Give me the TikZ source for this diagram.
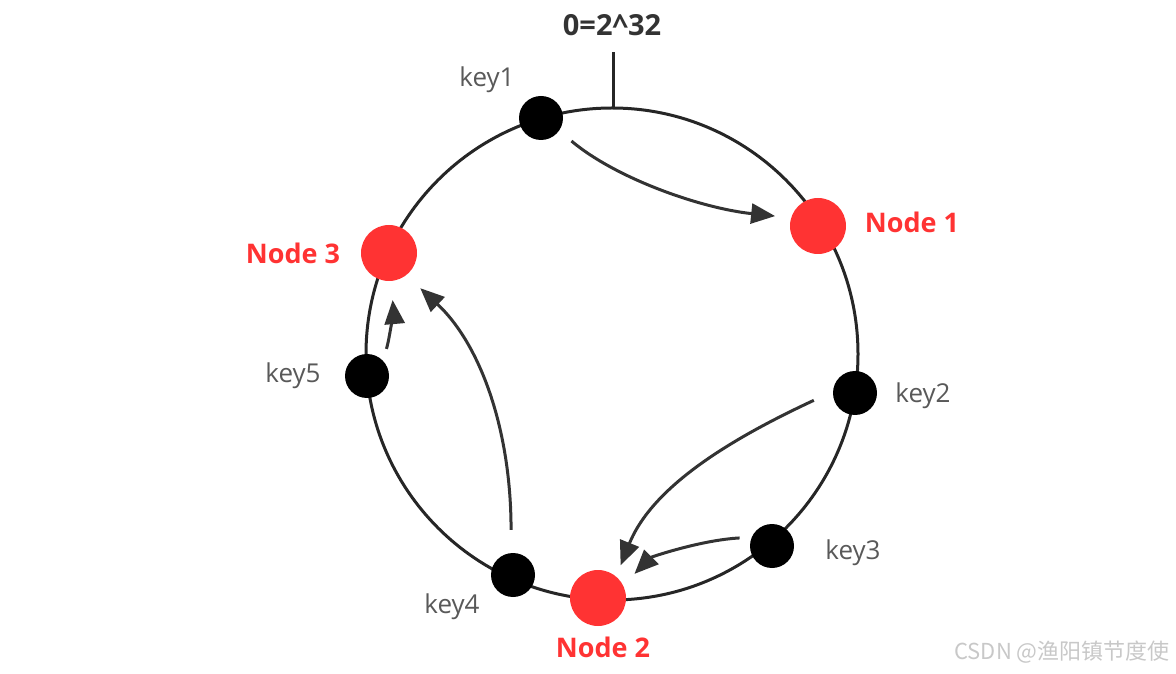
\documentclass[tikz,border=0pt]{standalone}
\usepackage{fontspec}
\setmainfont{Open Sans}
\newfontfamily\cjk{Noto Sans CJK SC}
\usetikzlibrary{arrows.meta}
\definecolor{nodered}{HTML}{FF3333}
\definecolor{keygray}{HTML}{595959}
\definecolor{ringdark}{HTML}{262626}
\definecolor{hopdark}{HTML}{333333}
\definecolor{markgray}{HTML}{C8C8C8}
\begin{document}
\begin{tikzpicture}[x=1pt,y=1pt,
    keydot/.style={circle,fill=black,minimum size=44pt,inner sep=0pt},
    reddot/.style={circle,fill=nodered,minimum size=56pt,inner sep=0pt},
    keylabel/.style={text=keygray,font=\fontsize{26}{30}\selectfont},
    redlabel/.style={text=nodered,font=\bfseries\fontsize{27}{32}\selectfont},
    hop/.style={draw=hopdark,line width=3pt,-{Triangle[length=24pt,width=20pt]}}]
    \useasboundingbox (0,0) rectangle (1176,673);
    \draw [line width=3pt][draw=ringdark] (612,319) circle [radius=246pt];
    % zero point at the top of the ring
    \coordinate (zero) at (613,565);
    \coordinate (zerotop) at (613,621);
    \draw [line width=3pt][draw=ringdark] (zero) -- (zerotop);
    \node [text=hopdark,font=\bfseries\fontsize{29}{34}\selectfont] (zerolabel) at (612,648) {0=2\textasciicircum32};
    % keys and servers on the ring
    \node [keydot] (key1) at (541,555) {};
    \node [keydot] (key2) at (855,280) {};
    \node [keydot] (key3) at (772,127) {};
    \node [keydot] (key4) at (513,98) {};
    \node [keydot] (key5) at (367,297) {};
    \node [reddot] (n1) at (818,447) {};
    \node [reddot] (n2) at (598,75) {};
    \node [reddot] (n3) at (389,420) {};
    \node [keylabel] (key1label) at (487,593) {key1};
    \node [keylabel] (key2label) at (923,277) {key2};
    \node [keylabel] (key3label) at (853,120) {key3};
    \node [keylabel] (key4label) at (452,66) {key4};
    \node [keylabel] (key5label) at (293,297) {key5};
    \node [redlabel] (n1label) at (912,451) {Node 1};
    \node [redlabel] (n2label) at (603,26) {Node 2};
    \node [redlabel] (n3label) at (293,420) {Node 3};
    % clockwise hops
    \draw [hop][shorten <=16pt,shorten >=16pt] (key1.-35) .. controls +(-40:75) and +(174:90) .. (n1.163);
    \draw [hop][shorten <=21pt,shorten >=12pt] (key2.176) .. controls +(205:105) and +(68:100) .. (n2.50);
    \draw [hop][shorten <=12pt,shorten >=16pt] (key3.157) .. controls +(183:50) and +(45:40) .. (n2.27);
    \draw [hop][shorten <=23pt,shorten >=19pt] (key4.95) .. controls +(90:125) and +(-43:100) .. (n3.-52);
    \draw [hop][shorten <=12pt,shorten >=19pt] (key5.45) .. controls +(72:24) and +(-85:24) .. (n3.-86);
    \node [text=markgray,font=\cjk\fontsize{22}{26}\selectfont] (mark) at (1062,21) {CSDN @渔阳镇节度使};
\end{tikzpicture}
\end{document}
